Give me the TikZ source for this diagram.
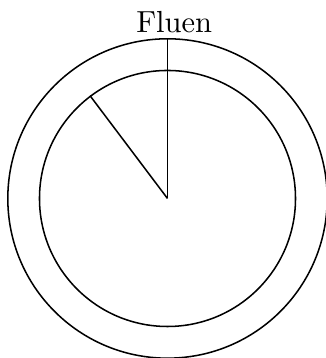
\documentclass[tikz,border=0pt]{standalone}
\usepackage{tikz}
\usetikzlibrary{positioning,calc}

\begin{document}
\begin{tikzpicture}[
  line width=0.5pt,
  ring/.style={draw,circle,inner sep=0pt},
]
\useasboundingbox (-1.93,-1.838) rectangle (1.826,2.287);

% rings and hands
\coordinate (c) at (0,0);
\node[ring,minimum size=3.68cm] (outer) at (c) {};
\node[ring,minimum size=2.95cm] (inner) at (c) {};
\coordinate (top) at (outer.north);
\coordinate (tip) at (inner.127);
\draw (c) -- (top);
\draw (c) -- (tip);
\node[anchor=base] (lbl) at ($(top)+(0.077,0.063)$) {Fluen};

\end{tikzpicture}
\end{document}
